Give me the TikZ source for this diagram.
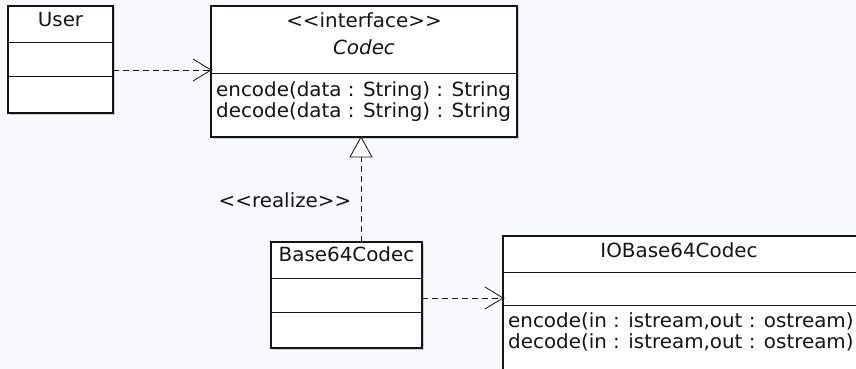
\documentclass[tikz,border=0pt]{standalone}
\usepackage{fontspec}
\setmainfont{DejaVu Sans}[FakeStretch=1.02]
\usetikzlibrary{shadows}
\definecolor{bg}{RGB}{248,249,252}
\definecolor{ink}{RGB}{20,20,20}
\begin{document}
\begin{tikzpicture}[x=1pt,y=-1pt,
  classbox/.style={draw=ink, line width=1.2pt, fill=white, inner sep=0pt, outer sep=0pt, anchor=north west,
    drop shadow={shadow xshift=1.5pt, shadow yshift=-1.5pt, opacity=0.18, fill=black}},
  divider/.style={draw=ink, line width=1pt},
  dep/.style={draw=ink, line width=0.9pt, dash pattern=on 6pt off 4pt},
  head/.style={draw=ink, line width=0.8pt, solid},
  txt/.style={font=\fontsize{19.5}{21}\selectfont, text=ink, inner sep=0pt, anchor=base},
  mtxt/.style={txt, anchor=base west},
]
\path[use as bounding box, fill=bg] (0,0) rectangle (856,369);
\clip (0,0) rectangle (856,369);

% User
\node[classbox, minimum width=105pt, minimum height=107pt] (user) at (8,6) {};
\draw[divider] (user.west |- 0,43) -- (user.east |- 0,43);
\draw[divider] (user.west |- 0,76) -- (user.east |- 0,76);
\node[txt] (usern) at (60.5,27) {User};

% Codec
\node[classbox, minimum width=306pt, minimum height=131pt] (codec) at (211,6) {};
\draw[divider] (codec.west |- 0,73) -- (codec.east |- 0,73);
\node[txt] (codecst) at (364,28) {<{}<interface>{}>};
\node[txt] (codecn) at (364,55) {\itshape Codec};
\node[mtxt] (codecm1) at (216,96) {encode(data : String) : String};
\node[mtxt] (codecm2) at (216,117) {decode(data : String) : String};

% Base64Codec
\node[classbox, minimum width=151pt, minimum height=106pt] (b64) at (271,242) {};
\draw[divider] (b64.west |- 0,278) -- (b64.east |- 0,278);
\draw[divider] (b64.west |- 0,312) -- (b64.east |- 0,312);
\node[txt] (b64n) at (346.5,261) {Base64Codec};

% IOBase64Codec
\node[classbox, minimum width=354pt, minimum height=150pt] (io) at (503,236) {};
\draw[divider] (io.west |- 0,272) -- (io.east |- 0,272);
\draw[divider] (io.west |- 0,305) -- (io.east |- 0,305);
\node[txt] (ion) at (679,257) {IOBase64Codec};
\node[mtxt] (iom1) at (508,327) {encode(in : istream,out : ostream)};
\node[mtxt] (iom2) at (508,348) {decode(in : istream,out : ostream)};

% User -> Codec dependency
\coordinate (t1) at (codec.west |- 0,70);
\draw[dep] (user.east |- 0,70) -- (t1);
\draw[head] (t1) ++(-18,-11) -- (t1) -- ++(-18,11);
\fill[ink] (t1) circle (1.5pt);

% Base64Codec -> IOBase64Codec dependency
\coordinate (t2) at (io.west |- 0,298);
\draw[dep] (b64.east |- 0,298) -- (t2);
\draw[head] (t2) ++(-18,-11) -- (t2) -- ++(-18,11);
\fill[ink] (t2) circle (1.5pt);

% realization
\coordinate (rtip) at (codec.south -| 361,0);
\coordinate (rbase) at (361,157);
\draw[dep] (b64.north -| 361,0) -- (rbase);
\draw[head, fill=white] (rtip) -- (350,157) -- (372,157) -- cycle;
\node[txt] (real) at (285,207) {<{}<realize>{}>};
\end{tikzpicture}
\end{document}
